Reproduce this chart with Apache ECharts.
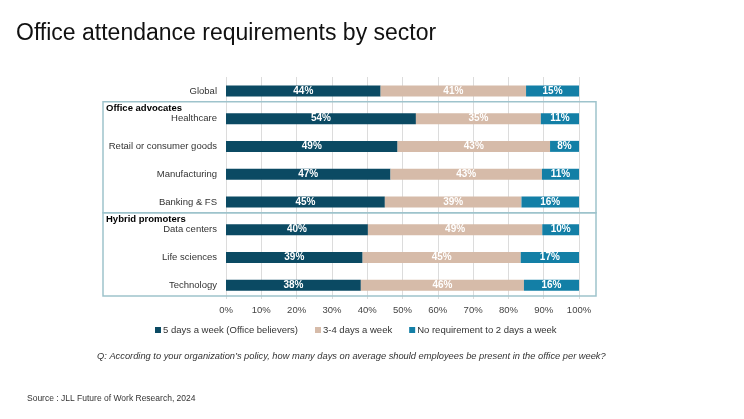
<!DOCTYPE html>
<html>
<head>
<meta charset="utf-8">
<script src="https://cdn.jsdelivr.net/npm/echarts@6/dist/echarts.min.js"></script>
<style>
	html, body { margin: 0; padding: 0; background: #fff; }
	#chart { width: 744px; height: 419px; }
</style>
</head>
<body>
<div id="chart"></div>
<script>
var sectors = ['Global', 'Healthcare', 'Retail or consumer goods', 'Manufacturing', 'Banking & FS', 'Data centers', 'Life sciences', 'Technology'];
// shares, rounded labels match the picture
var fiveDays = [43.8, 53.8, 48.6, 46.6, 45.0, 40.2, 38.7, 38.2];
var threeFour = [41.2, 35.4, 43.2, 42.9, 38.7, 49.4, 44.8, 46.2];
var noReq = [15.0, 10.8, 8.2, 10.5, 16.3, 10.4, 16.5, 15.6];
var seriesNames = ['5 days a week (Office believers)', '3-4 days a week', 'No requirement to 2 days a week'];
var colors = ['#0b4a63', '#d6bba9', '#137fa6'];
var groups = [
	{ name: 'Office advocates', from: 1, to: 4 },
	{ name: 'Hybrid promoters', from: 5, to: 7 }
];

var font = 'Liberation Sans, Arial, sans-serif';
var myChart = echarts.init(document.getElementById('chart'));

function barSeries(name, data, color) {
	return {
		name: name,
		type: 'bar',
		stack: 'all',
		barWidth: 11,
		data: data,
		itemStyle: { color: color },
		label: {
			show: true,
			position: 'inside',
			color: '#fff',
			fontWeight: 'bold',
			fontSize: 10,
			fontFamily: font,
			formatter: function(p) {
				return Math.round(p.value) + '%';
			}
		},
		emphasis: { disabled: true }
	};
}

var option = {
	animation: false,
	color: colors,
	title: [{
		text: 'Office attendance requirements by sector',
		left: 11,
		top: 17,
		textStyle: { color: '#111', fontSize: 23, fontWeight: 'normal', fontFamily: font }
	}, {
		text: 'Q: According to your organization\u2019s policy, how many days on average should employees be present in the office per week?',
		left: 92,
		top: 347,
		textStyle: { color: '#333', fontSize: 9.3, fontStyle: 'italic', fontWeight: 'normal', fontFamily: font }
	}, {
		text: 'Source : JLL Future of Work Research, 2024',
		left: 22,
		top: 389,
		textStyle: { color: '#333', fontSize: 8.5, fontWeight: 'normal', fontFamily: font }
	}],
	legend: {
		top: 320,
		left: 150,
		itemWidth: 6,
		itemHeight: 6,
		itemGap: 17,
		icon: 'rect',
		textStyle: { color: '#333', fontSize: 9.5, fontFamily: font, padding: [0, 0, 0, -3] },
		data: seriesNames
	},
	grid: {
		left: 226,
		right: 165,
		top: 77,
		bottom: 120,
		containLabel: false
	},
	xAxis: {
		type: 'value',
		min: 0,
		max: 100,
		interval: 10,
		axisLine: { show: false },
		axisTick: { show: false },
		axisLabel: {
			formatter: '{value}%',
			color: '#444',
			fontSize: 9.5,
			fontFamily: font,
			margin: 6
		},
		splitLine: { lineStyle: { color: '#dcdcdc', width: 1 } }
	},
	yAxis: {
		type: 'category',
		inverse: true,
		data: sectors,
		axisLine: { show: false },
		axisTick: { show: false },
		axisLabel: { color: '#333', fontSize: 9.5, fontFamily: font, margin: 9 }
	},
	series: [
		barSeries(seriesNames[0], fiveDays, colors[0]),
		barSeries(seriesNames[1], threeFour, colors[1]),
		barSeries(seriesNames[2], noReq, colors[2])
	]
};
myChart.setOption(option);

// group boxes placed from the category axis
function catY(i) {
	return myChart.convertToPixel({ yAxisIndex: 0 }, sectors[i]);
}
var half = (catY(1) - catY(0)) / 2;
var boxLeft = 103, boxRight = 596;
var graphics = [];
groups.forEach(function(g, k) {
	var y0 = catY(g.from) - half - 3;
	var y1 = k < groups.length - 1 ? catY(groups[k + 1].from) - half - 3 : catY(g.to) + half - 3;
	graphics.push({
		type: 'rect',
		shape: { x: boxLeft, y: y0, width: boxRight - boxLeft, height: y1 - y0 },
		style: { fill: 'none', stroke: '#9ec3cc', lineWidth: 1.5 },
		silent: true,
		z: 10
	});
	graphics.push({
		type: 'text',
		x: boxLeft + 3,
		y: y0 + 2,
		style: { text: g.name, fill: '#000', font: 'bold 9.5px ' + font },
		silent: true,
		z: 10
	});
});
myChart.setOption({ graphic: graphics });
</script>
</body>
</html>
